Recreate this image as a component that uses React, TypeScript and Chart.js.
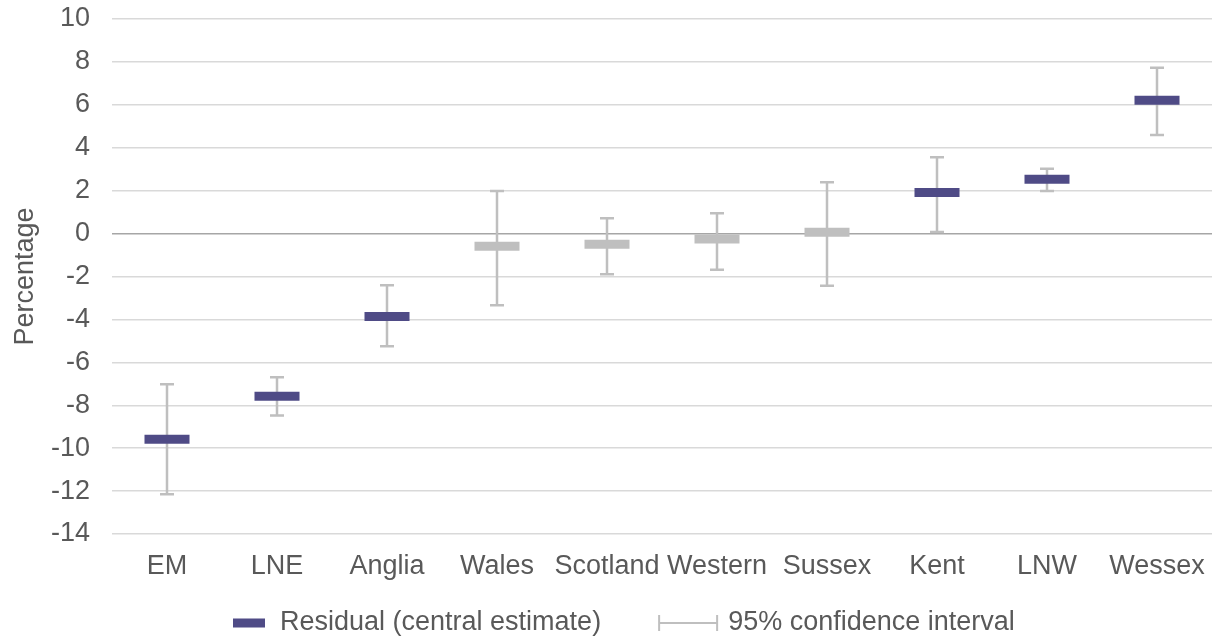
import React, { useEffect, useRef } from "react";
import { Chart, registerables } from "chart.js";

Chart.register(...registerables);

const categories = ["EM", "LNE", "Anglia", "Wales", "Scotland", "Western", "Sussex", "Kent", "LNW", "Wessex"];
const centralEstimate = [-9.58, -7.58, -3.86, -0.59, -0.5, -0.25, 0.06, 1.92, 2.53, 6.21];
const ciLow = [-12.15, -8.48, -5.25, -3.34, -1.9, -1.68, -2.43, 0.07, 1.98, 4.59];
const ciHigh = [-7.02, -6.7, -2.41, 1.98, 0.71, 0.95, 2.39, 3.56, 3.02, 7.73];
const yTicks = [-14, -12, -10, -8, -6, -4, -2, 0, 2, 4, 6, 8, 10];
const legendLabels = ["Residual (central estimate)", "95% confidence interval"];
const yTitle = "Percentage";

const PURPLE = "#4F4B86";
const GREY = "#BFBFBF";
const TEXT = "#595959";
const FONT = "'Liberation Sans', Arial, sans-serif";
const FONT_SIZE = 27;

const markerColors = centralEstimate.map((_, i) =>
  ciLow[i] > 0 || ciHigh[i] < 0 ? PURPLE : GREY
);

const errorBarPlugin = {
  id: "errorBars",
  beforeDatasetsDraw(chart: any) {
    const { ctx } = chart;
    const x = chart.scales.x;
    const y = chart.scales.y;
    ctx.save();
    ctx.strokeStyle = GREY;
    ctx.lineWidth = 2.5;
    ctx.lineCap = "butt";
    const cap = 7;
    categories.forEach((_, i) => {
      const px = Math.round(x.getPixelForValue(i));
      const yl = y.getPixelForValue(ciLow[i]);
      const yh = y.getPixelForValue(ciHigh[i]);
      ctx.beginPath();
      ctx.moveTo(px, yl);
      ctx.lineTo(px, yh);
      ctx.moveTo(px - cap, yl);
      ctx.lineTo(px + cap, yl);
      ctx.moveTo(px - cap, yh);
      ctx.lineTo(px + cap, yh);
      ctx.stroke();
    });
    ctx.restore();
  },
};

const legendPlugin = {
  id: "customLegend",
  afterDraw(chart: any) {
    const { ctx } = chart;
    const cy = 623;
    ctx.save();
    ctx.font = `${FONT_SIZE}px ${FONT}`;
    ctx.textBaseline = "middle";
    ctx.textAlign = "left";
    let x = 233;
    ctx.fillStyle = PURPLE;
    ctx.fillRect(x, cy - 4.5, 32, 9);
    x += 32 + 15;
    ctx.fillStyle = TEXT;
    ctx.fillText(legendLabels[0], x, cy);
    x += ctx.measureText(legendLabels[0]).width + 57;
    ctx.strokeStyle = GREY;
    ctx.lineWidth = 2;
    ctx.beginPath();
    ctx.moveTo(x, cy);
    ctx.lineTo(x + 60, cy);
    ctx.moveTo(x + 1, cy - 8);
    ctx.lineTo(x + 1, cy + 8);
    ctx.moveTo(x + 59, cy - 8);
    ctx.lineTo(x + 59, cy + 8);
    ctx.stroke();
    x += 60 + 10;
    ctx.fillText(legendLabels[1], x, cy);
    ctx.restore();
  },
};

export default function App() {
  const ref = useRef<HTMLCanvasElement | null>(null);

  useEffect(() => {
    if (!ref.current) return;
    Chart.defaults.font.family = FONT;
    Chart.defaults.font.size = FONT_SIZE;
    Chart.defaults.color = TEXT;
    const chart = new Chart(ref.current, {
      type: "line",
      data: {
        labels: categories,
        datasets: [
          {
            label: legendLabels[0],
            data: centralEstimate,
            showLine: false,
            pointStyle: "line",
            pointRadius: 22.5,
            pointHoverRadius: 22.5,
            pointBorderWidth: 9,
            pointHoverBorderWidth: 9,
            pointBorderColor: markerColors,
            pointBackgroundColor: markerColors,
            borderColor: PURPLE,
            backgroundColor: PURPLE,
          },
        ],
      },
      options: {
        responsive: false,
        animation: false,
        events: [],
        layout: { autoPadding: false, padding: { top: 19, right: 2, bottom: 50, left: 0 } },
        plugins: {
          legend: { display: false },
          tooltip: { enabled: false },
        },
        scales: {
          x: {
            type: "category",
            offset: true,
            grid: { display: false, drawTicks: false },
            border: { display: false },
            ticks: { padding: 16, color: TEXT, font: { size: FONT_SIZE }, maxRotation: 0, autoSkip: false },
            afterFit(scale: any) {
              scale.height = 57;
              scale.paddingLeft = 0;
              scale.paddingRight = 0;
            },
          },
          y: {
            min: -14,
            max: 10,
            afterBuildTicks(scale: any) {
              scale.ticks = yTicks.map((v) => ({ value: v }));
            },
            grid: {
              drawTicks: false,
              lineWidth: 1.5,
              color: (c: any) => (c.tick && c.tick.value === 0 ? "#A6A6A6" : "#D9D9D9"),
            },
            border: { display: false },
            ticks: { padding: 22, color: TEXT, font: { size: FONT_SIZE } },
            title: {
              display: true,
              text: yTitle,
              color: TEXT,
              font: { size: FONT_SIZE },
              padding: { top: 9, bottom: 0 },
            },
            afterFit(scale: any) {
              scale.width = 112;
              scale.paddingTop = 0;
              scale.paddingBottom = 0;
            },
          },
        },
      },
      plugins: [errorBarPlugin, legendPlugin],
    });
    return () => chart.destroy();
  }, []);

  return (
    <div style={{ position: "absolute", left: 0, top: 0, width: 1214, height: 641, background: "#fff" }}>
      <canvas ref={ref} width={1214} height={641} />
    </div>
  );
}
